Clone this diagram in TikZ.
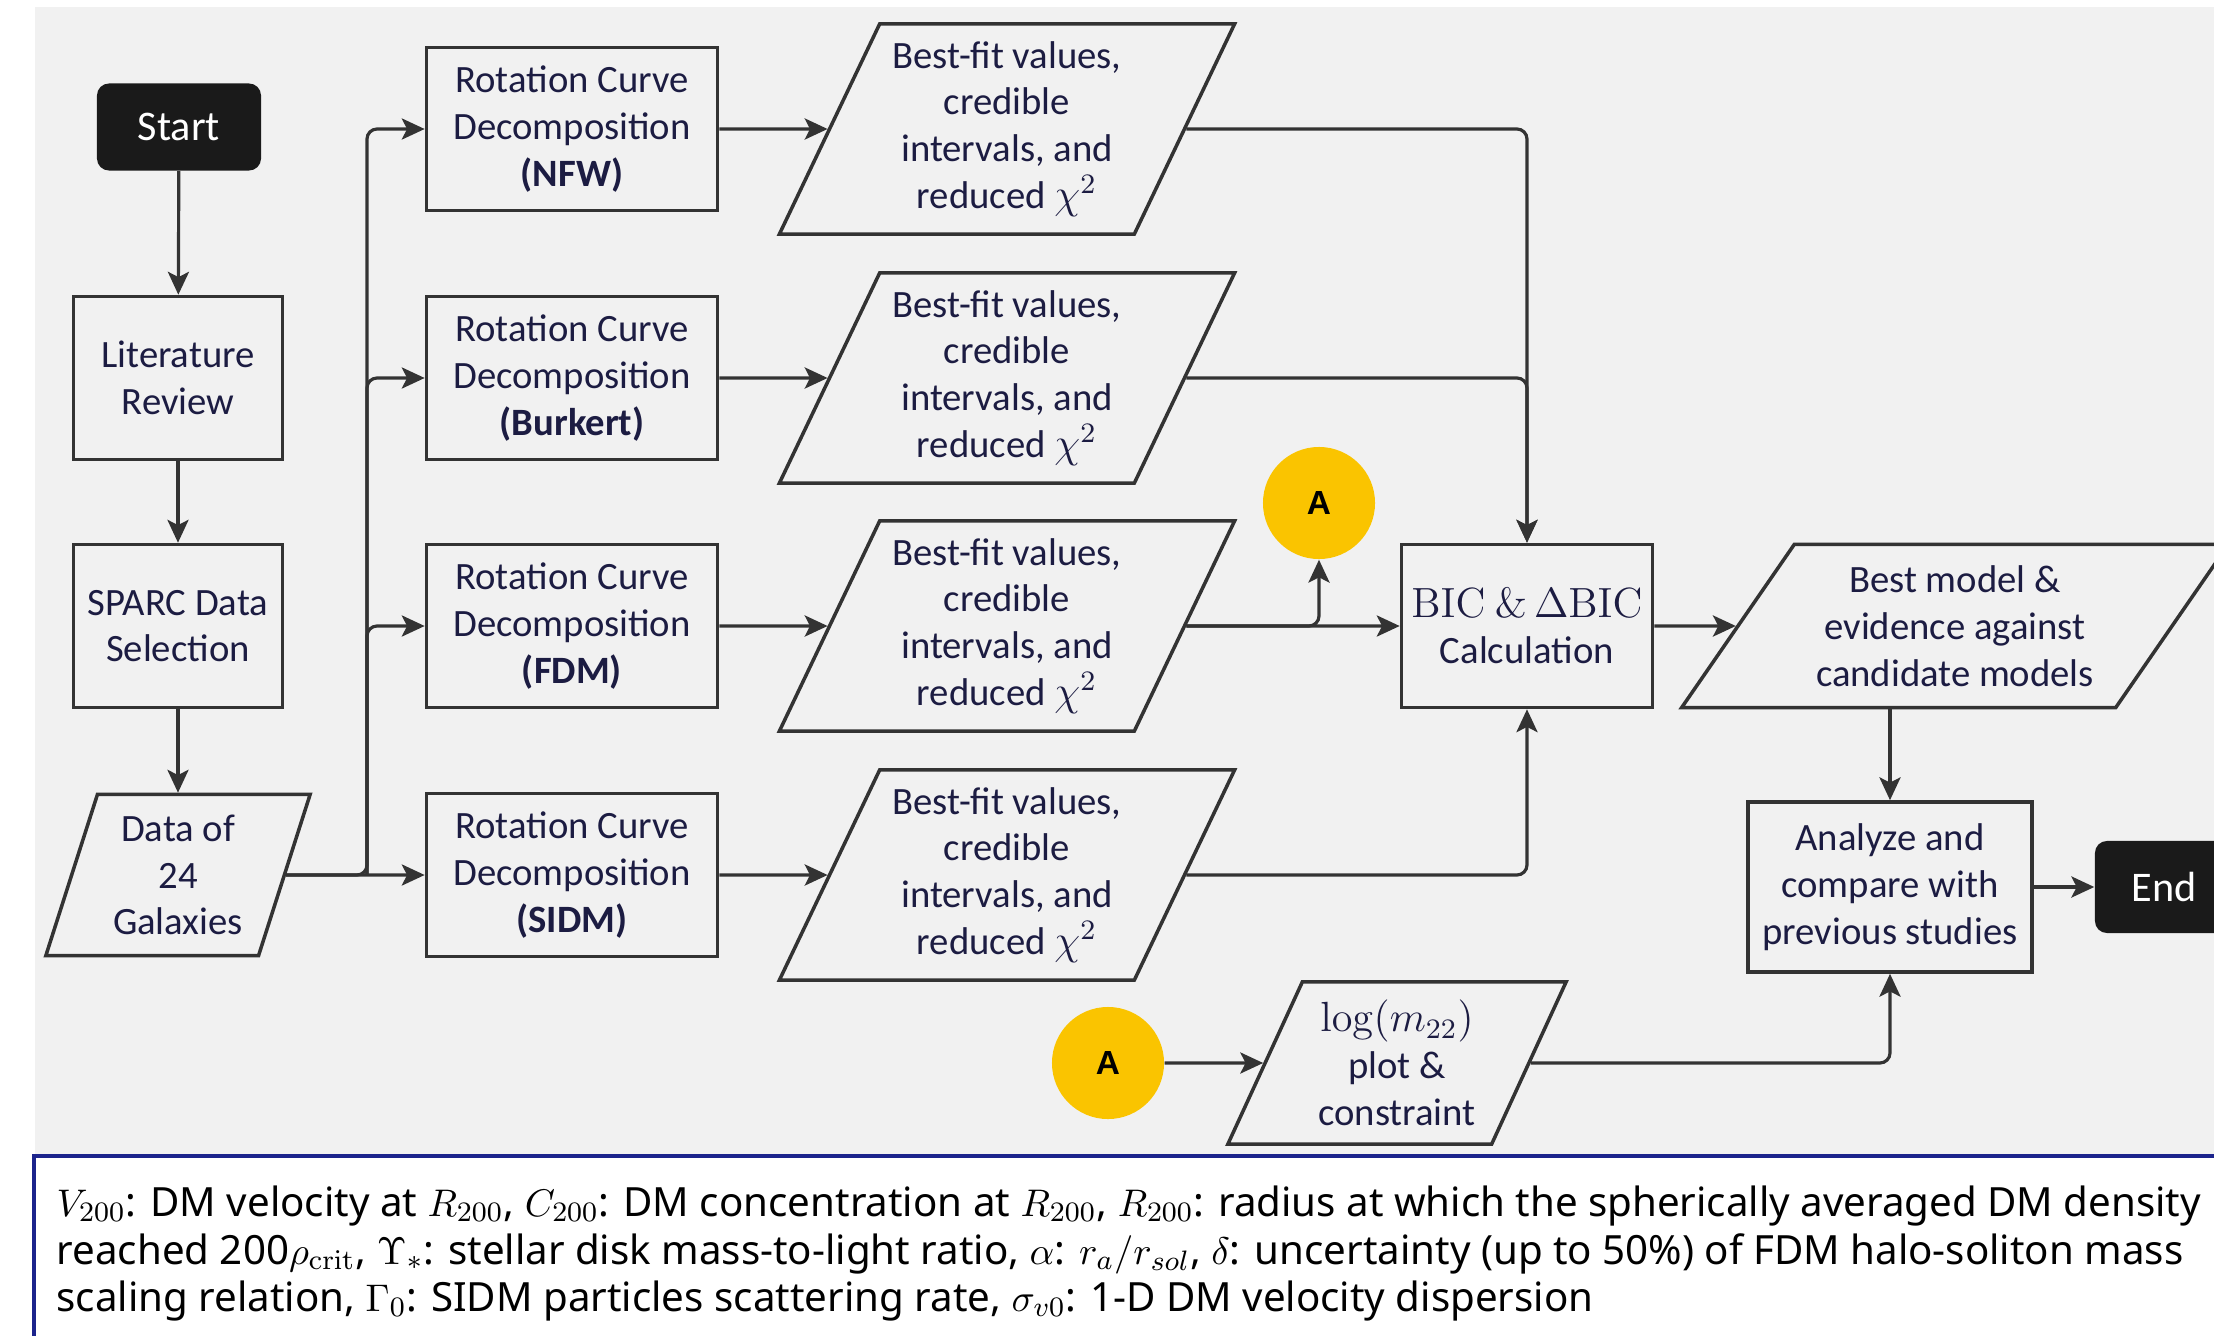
\documentclass[tikz,border=0pt]{standalone}
\usepackage[no-math]{fontspec}
\setmainfont{Carlito}
\newfontfamily\notefont{Noto Sans}
\newfontfamily\tagfont{Liberation Sans}
\usepackage{tikz}
\usetikzlibrary{arrows.meta,shapes.geometric}
\usepackage{amsmath}

\begin{document}
\begin{tikzpicture}[x=0.01cm,y=-0.01cm,
  outline/.style={draw=edge,line width=1pt,fill=#1,text=ink,align=center,font=\fontsize{11}{13.3}\selectfont},
  box/.style={outline=panel,rectangle,minimum width=2.91cm,minimum height=1.63cm,inner sep=2pt},
  para/.style 2 args={outline=panel,trapezium,trapezium left angle=#1,trapezium right angle=#2,trapezium stretches=true,inner sep=1pt},
  term/.style={fill=termfill,text=white,rounded corners=0.12cm,align=center,font=\fontsize{12}{14}\selectfont},
  tag/.style={circle,fill=tagyellow,minimum size=1.12cm,inner sep=0pt,font=\tagfont\bfseries\fontsize{9.5}{11}\selectfont},
  note/.style={anchor=base west,inner sep=0pt,font=\notefont\fontsize{11.45}{13}\selectfont},
  link/.style={draw=edge,line width=0.9pt,rounded corners=0.1cm,-{Stealth[length=6.5pt,width=6pt,inset=1.5pt]}}]
  \definecolor{panel}{RGB}{241,241,241};
  \definecolor{edge}{RGB}{51,51,51};
  \definecolor{ink}{RGB}{28,28,66};
  \definecolor{termfill}{RGB}{26,26,26};
  \definecolor{tagyellow}{RGB}{250,196,0};
  \definecolor{noteblue}{RGB}{28,36,140};
	\useasboundingbox (0,0) rectangle (2214,1336);
	\fill [panel] (35,7) rectangle (2214,1155);
	\draw [noteblue,line width=1pt,fill=white] (34,1156) rectangle (2260,1380);
	\node [term,minimum width=1.64cm,minimum height=0.87cm] (start) at (179,127) {Start};
	\node [box,minimum width=2.09cm] (lit) at (178,378) {Literature\\Review};
	\node [box,minimum width=2.09cm] (sparc) at (178,626) {SPARC Data\\Selection};
	\node [para={71}{109},minimum width=2.65cm,minimum height=1.61cm] (data) at (178,875) {Data of\\24\\Galaxies};
	\node [box] (rcnfw) at (572,129) {Rotation Curve\\Decomposition\\\textbf{(NFW)}};
	\node [box] (rcbur) at (572,378) {Rotation Curve\\Decomposition\\\textbf{(Burkert)}};
	\node [box] (rcfdm) at (572,626) {Rotation Curve\\Decomposition\\\textbf{(FDM)}};
	\node [box] (rcsidm) at (572,875) {Rotation Curve\\Decomposition\\\textbf{(SIDM)}};
	\node [para={63}{117},minimum width=4.55cm,minimum height=2.1cm] (fitnfw) at (1007,129) {Best-fit values,\\credible\\intervals, and\\reduced {\large$\chi^2$}};
	\node [para={63}{117},minimum width=4.55cm,minimum height=2.1cm] (fitbur) at (1007,378) {Best-fit values,\\credible\\intervals, and\\reduced {\large$\chi^2$}};
	\node [para={63}{117},minimum width=4.55cm,minimum height=2.1cm] (fitfdm) at (1007,626) {Best-fit values,\\credible\\intervals, and\\reduced {\large$\chi^2$}};
	\node [para={63}{117},minimum width=4.55cm,minimum height=2.1cm] (fitsidm) at (1007,875) {Best-fit values,\\credible\\intervals, and\\reduced {\large$\chi^2$}};
	\node [tag] (tagfit) at (1319,503) {A};
	\node [box,minimum width=2.51cm] (bic) at (1527,626) {{\large$\mathrm{BIC}\ \&\,\Delta\mathrm{BIC}$}\\Calculation};
	\node [para={52}{128},minimum width=5.47cm,minimum height=1.63cm] (best) at (1955,626) {Best model \&\\evidence against\\candidate models};
	\node [box,minimum width=2.84cm,minimum height=1.7cm] (ana) at (1890,887) {Analyze and\\compare with\\previous studies};
	\node [term,minimum width=1.38cm,minimum height=0.92cm] (finish) at (2164,887) {End};
	\node [tag] (taglog) at (1108,1063) {A};
	\node [para={64}{116},minimum width=3.4cm,minimum height=1.62cm] (logm) at (1397,1063) {{\large$\log(m_{22})$}\\plot \&\\constraint};
	\coordinate (fork) at (367,875);
	\draw [link] (start) -- (lit);
	\draw [link] (lit) -- (sparc);
	\draw [link] (sparc.south) -- (sparc.south |- data.north);
	\draw [link] (data.east) -- (rcsidm.west);
	\draw [link] (data.east) -- (fork) |- (rcnfw.west);
	\draw [link] (fork) |- (rcbur.west);
	\draw [link] (fork) |- (rcfdm.west);
	\draw [link] (rcnfw) -- (fitnfw);
	\draw [link] (rcbur) -- (fitbur);
	\draw [link] (rcfdm) -- (fitfdm);
	\draw [link] (rcsidm) -- (fitsidm);
	\draw [link] (fitnfw.east) -| (bic.north);
	\draw [link] (fitbur.east) -| (bic.north);
	\draw [link] (fitfdm) -- (bic);
	\draw [link] (fitfdm.east) -| (tagfit.south);
	\draw [link] (fitsidm.east) -| (bic.south);
	\draw [link] (bic) -- (best);
	\draw [link] (best.south -| ana.north) -- (ana.north);
	\draw [link] (ana) -- (finish);
	\draw [link] (taglog) -- (logm);
	\draw [link] (logm.east) -| (ana.south);
	\node [note] (note1) at (56,1216) {$V_{200}$: DM velocity at $R_{200}$, $C_{200}$: DM concentration at $R_{200}$, $R_{200}$: radius at which the spherically averaged DM density};
	\node [note] (note2) at (56,1264) {reached 200$\rho_{\mathrm{crit}}$, $\Upsilon_*$: stellar disk mass-to-light ratio, $\alpha$: $r_a/r_{sol}$, $\delta$: uncertainty (up to 50\%) of FDM halo-soliton mass};
	\node [note] (note3) at (56,1311) {scaling relation, $\Gamma_0$: SIDM particles scattering rate, $\sigma_{v0}$: 1-D DM velocity dispersion};
\end{tikzpicture}
\end{document}
